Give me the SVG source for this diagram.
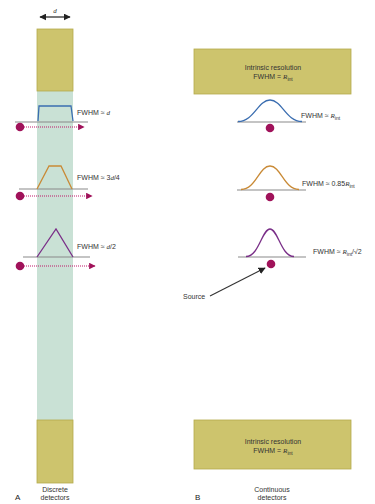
<svg xmlns="http://www.w3.org/2000/svg" width="375" height="504" viewBox="0 0 375 504">
<defs>
<style>
.det{fill:#cdc46d;stroke:#b5ab4c;stroke-width:0.8}
.strip{fill:#c9e1d5}
.base{stroke:#8a8a8a;stroke-width:1.2;fill:none}
.src{fill:#a0125a}
.dots{stroke:#c0186a;stroke-width:1.2;stroke-dasharray:1 1;fill:none}
.t{font-family:"Liberation Sans",Arial,sans-serif;font-size:7px;fill:#333}
.i{font-family:"Liberation Serif","Times New Roman",serif;font-style:italic;fill:#333}
.sub{font-size:5px;fill:#333}
.lbl{font-family:"Liberation Sans",Arial,sans-serif;font-size:8px;fill:#222}
</style>
<marker id="pa" viewBox="0 0 10 10" refX="9" refY="5" markerWidth="6.5" markerHeight="6.5" orient="auto" markerUnits="userSpaceOnUse">
<path d="M0,0 L10,5 L0,10 z" fill="#a0125a"/>
</marker>
<marker id="ka" viewBox="0 0 10 10" refX="9" refY="5" markerWidth="7" markerHeight="7" orient="auto" markerUnits="userSpaceOnUse">
<path d="M0,0 L10,5 L0,10 z" fill="#222"/>
</marker>
<marker id="ks" viewBox="0 0 10 10" refX="1" refY="5" markerWidth="7" markerHeight="7" orient="auto" markerUnits="userSpaceOnUse">
<path d="M10,0 L0,5 L10,10 z" fill="#222"/>
</marker>
</defs>
<rect width="375" height="504" fill="#fff"/>

<g id="strip"><rect class="strip" x="37" y="91" width="36" height="330"/></g>
<g id="detA-top"><rect class="det" x="37" y="29" width="36" height="62"/></g>
<g id="detA-bottom"><rect class="det" x="37" y="420" width="36" height="63"/></g>
<g id="width-d">
<line x1="40" y1="17" x2="70" y2="17" stroke="#222" stroke-width="1.2" marker-start="url(#ks)" marker-end="url(#ka)"/>
<text class="t i" x="55" y="13" text-anchor="middle" font-size="8">d</text>
</g>

<g id="profA1">
<line class="base" x1="15" y1="122" x2="88" y2="122"/>
<path d="M38,121 L39,106 L71,106 L73,121" fill="none" stroke="#3a6db0" stroke-width="1.3"/>
<text class="t" x="77" y="115">FWHM ≈ <tspan class="i">d</tspan></text>
<circle class="src" cx="20" cy="127" r="4.3"/>
<line class="dots" x1="24" y1="127" x2="84" y2="127" marker-end="url(#pa)"/>
</g>

<g id="profA2">
<line class="base" x1="19" y1="189" x2="88" y2="189"/>
<path d="M37,189 L49,166 L61,166 L72,189" fill="none" stroke="#c98a36" stroke-width="1.3"/>
<text class="t" x="77" y="180">FWHM ≈ 3<tspan class="i">d</tspan>/4</text>
<circle class="src" cx="20" cy="196" r="4.3"/>
<line class="dots" x1="24" y1="196" x2="92" y2="196" marker-end="url(#pa)"/>
</g>

<g id="profA3">
<line class="base" x1="23" y1="257" x2="90" y2="257"/>
<path d="M37,257 L56,229 L73,257" fill="none" stroke="#7a2f88" stroke-width="1.3"/>
<text class="t" x="77" y="249">FWHM ≈ <tspan class="i">d</tspan>/2</text>
<circle class="src" cx="20" cy="266" r="4.3"/>
<line class="dots" x1="24" y1="266" x2="95" y2="266" marker-end="url(#pa)"/>
</g>

<g id="detB-top">
<rect class="det" x="194" y="49" width="157" height="45"/>
<text class="t" x="273" y="70" text-anchor="middle">Intrinsic resolution</text>
<text class="t" x="273" y="79" text-anchor="middle">FWHM = <tspan class="i">R</tspan><tspan class="sub" dy="1.5">int</tspan></text>
</g>

<g id="profB1">
<line class="base" x1="237" y1="122" x2="306" y2="122"/>
<path d="M238,121.5 C254,121.5 258,100 270,100 C282,100 286,121.5 302,121.5" fill="none" stroke="#3a6db0" stroke-width="1.3"/>
<text class="t" x="301" y="118">FWHM ≈ <tspan class="i">R</tspan><tspan class="sub" dy="1.5">int</tspan></text>
<circle class="src" cx="270" cy="128" r="4.3"/>
</g>

<g id="profB2">
<line class="base" x1="237" y1="190" x2="306" y2="190"/>
<path d="M241,189.5 C256,189.5 259,166 270,166 C281,166 284,189.5 299,189.5" fill="none" stroke="#c98a36" stroke-width="1.3"/>
<text class="t" x="302" y="186">FWHM ≈ 0.85<tspan class="i">R</tspan><tspan class="sub" dy="1.5">int</tspan></text>
<circle class="src" cx="270" cy="197" r="4.3"/>
</g>

<g id="profB3">
<line class="base" x1="238" y1="257" x2="306" y2="257"/>
<path d="M246,256.5 C259,256.5 262,229 270,229 C278,229 281,256.5 294,256.5" fill="none" stroke="#7a2f88" stroke-width="1.3"/>
<text class="t" x="313" y="254">FWHM ≈ <tspan class="i">R</tspan><tspan class="sub" dy="1.5">int</tspan><tspan dy="-1.5">/√2</tspan></text>
<circle class="src" cx="271" cy="264" r="4.3"/>
</g>

<g id="source">
<text class="t" x="183" y="299" font-size="6.5">Source</text>
</g>

<g id="connectors">
<line x1="210" y1="296" x2="265" y2="268" stroke="#333" stroke-width="1.1" marker-end="url(#ka)"/>
</g>

<g id="detB-bottom">
<rect class="det" x="194" y="420" width="157" height="49"/>
<text class="t" x="273" y="444" text-anchor="middle">Intrinsic resolution</text>
<text class="t" x="273" y="453" text-anchor="middle">FWHM = <tspan class="i">R</tspan><tspan class="sub" dy="1.5">int</tspan></text>
</g>

<g id="labels">
<text class="lbl" x="15" y="500">A</text>
<text class="t" x="55" y="492" text-anchor="middle">Discrete</text>
<text class="t" x="55" y="500" text-anchor="middle">detectors</text>
<text class="lbl" x="195" y="500">B</text>
<text class="t" x="272" y="492" text-anchor="middle">Continuous</text>
<text class="t" x="272" y="500" text-anchor="middle">detectors</text>
</g>
</svg>
